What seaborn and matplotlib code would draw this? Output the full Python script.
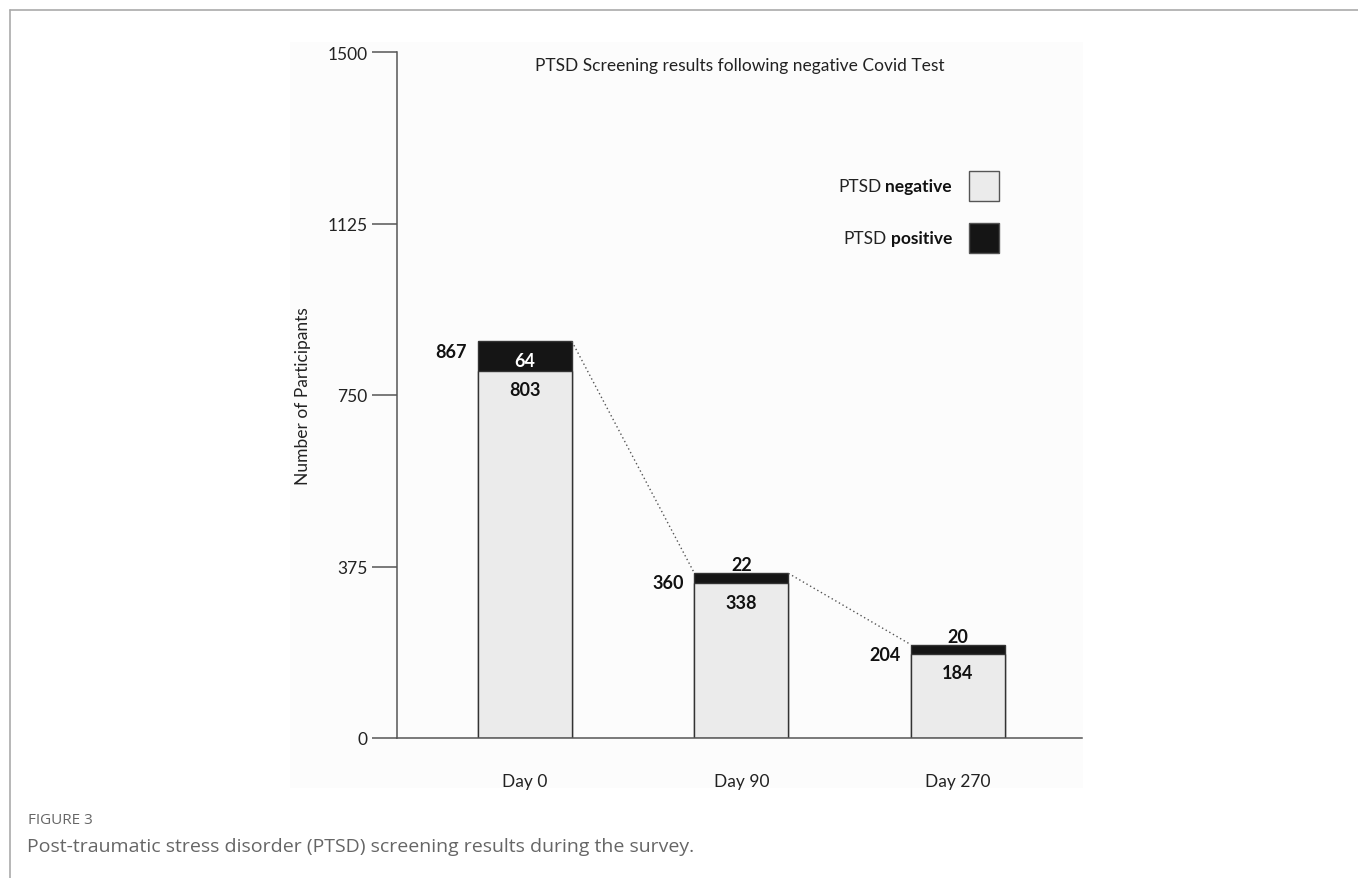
import matplotlib
matplotlib.use("Agg")
import matplotlib.pyplot as plt
import seaborn as sns
import pandas as pd
from matplotlib.patches import Rectangle
from matplotlib.lines import Line2D

days = ["Day 0", "Day 90", "Day 270"]
negative = [803, 338, 184]
positive = [64, 22, 20]
totals = [867, 360, 204]
y_ticks = [0, 375, 750, 1125, 1500]

sns.set_theme(style="white")
plt.rcParams["font.family"] = ["Lato", "DejaVu Sans"]

df = pd.DataFrame({"day": days, "negative": negative, "positive": positive, "total": totals})

fig = plt.figure(figsize=(13.58, 8.79), dpi=100)

# faint panel behind the chart
fig.add_artist(Rectangle((290 / 1358, 1 - 789 / 879), (1083 - 290) / 1358, (789 - 43) / 879,
                         transform=fig.transFigure, facecolor="#fcfcfc",
                         edgecolor="none", zorder=-5))

ax = fig.add_axes([397 / 1358, 140 / 879, 685 / 1358, 686 / 879])
ax.patch.set_alpha(0)

light = "#ebebeb"
dark = "#151515"
edge = "#333333"
bw = 0.434

# stacked bars: full total in dark, negative part drawn over it in light grey
sns.barplot(data=df, x="day", y="total", color=dark, width=bw, ax=ax,
            edgecolor=edge, linewidth=1.0, saturation=1)
sns.barplot(data=df, x="day", y="negative", color=light, width=bw, ax=ax,
            edgecolor=edge, linewidth=1.0, saturation=1)

ax.set_xlim(-0.591, 2.573)
ax.set_ylim(0, 1500)
ax.set_yticks(y_ticks)
ax.set_yticklabels([str(t) for t in y_ticks], fontsize=12.5, color="#222222")
ax.tick_params(axis="y", length=18, width=1.1, color="#555555", direction="out", pad=3, left=True)
ax.tick_params(axis="x", length=0, pad=25, labelsize=12.5, labelcolor="#222222")
ax.set_xlabel("")
ax.set_ylabel("Number of Participants", fontsize=12.5, color="#222222", labelpad=12)
for s in ["top", "right"]:
    ax.spines[s].set_visible(False)
for s in ["left", "bottom"]:
    ax.spines[s].set_color("#555555")
    ax.spines[s].set_linewidth(1.1)

# dotted connectors between bar tops
half = bw / 2
for i in range(len(days) - 1):
    ax.plot([i + half, i + 1 - half], [totals[i], totals[i + 1]],
            linestyle=(0, (1, 2)), color="#555555", linewidth=1.0)

# value labels
lab_kw = dict(fontsize=13, fontweight="bold", color="#111111")
for i, (n, p, t) in enumerate(zip(negative, positive, totals)):
    ax.text(i - half - 0.05, t - 21, str(t), ha="right", va="center", **lab_kw)
    ax.text(i, n - 41, str(n), ha="center", va="center", **lab_kw)
    if p > 40:
        ax.text(i, n + p / 2 - 9, str(p), ha="center", va="center",
                fontsize=13, fontweight="bold", color="white")
    else:
        ax.text(i, t + 19, str(p), ha="center", va="center", **lab_kw)

ax.set_title("PTSD Screening results following negative Covid Test",
             fontsize=12.5, color="#222222", y=0.962)

# legend drawn as text plus squares
for yy, word, col in [(187, "negative", light), (239, "positive", dark)]:
    yf = 1 - yy / 879
    t1 = fig.text(952 / 1358, yf, word, ha="right", va="center",
                  fontsize=12.5, fontweight="bold", color="#111111")
    fig.canvas.draw()
    bb = t1.get_window_extent()
    fig.text((bb.x0 - 4) / 1358, yf, "PTSD", ha="right", va="center",
             fontsize=12.5, color="#222222")
    fig.add_artist(Rectangle((969 / 1358, yf - 15 / 879), 30 / 1358, 30 / 879,
                             transform=fig.transFigure, facecolor=col,
                             edgecolor="#555555", linewidth=1.0))

# frame lines and caption
fig.add_artist(Line2D([10 / 1358, 1], [1 - 11 / 879] * 2, color="#aaaaaa", linewidth=1.2,
                      transform=fig.transFigure))
fig.add_artist(Line2D([10 / 1358] * 2, [0, 1 - 11 / 879], color="#aaaaaa", linewidth=1.2,
                      transform=fig.transFigure))
fig.text(28 / 1358, 1 - 821 / 879, "FIGURE 3", ha="left", va="center",
         fontsize=11, color="#666666", family=["Open Sans", "DejaVu Sans"])
fig.text(27 / 1358, 1 - 847 / 879,
         "Post-traumatic stress disorder (PTSD) screening results during the survey.",
         ha="left", va="center", fontsize=14, color="#666666",
         family=["Open Sans", "DejaVu Sans"])

fig.savefig("out.png", dpi=100, facecolor="white")
